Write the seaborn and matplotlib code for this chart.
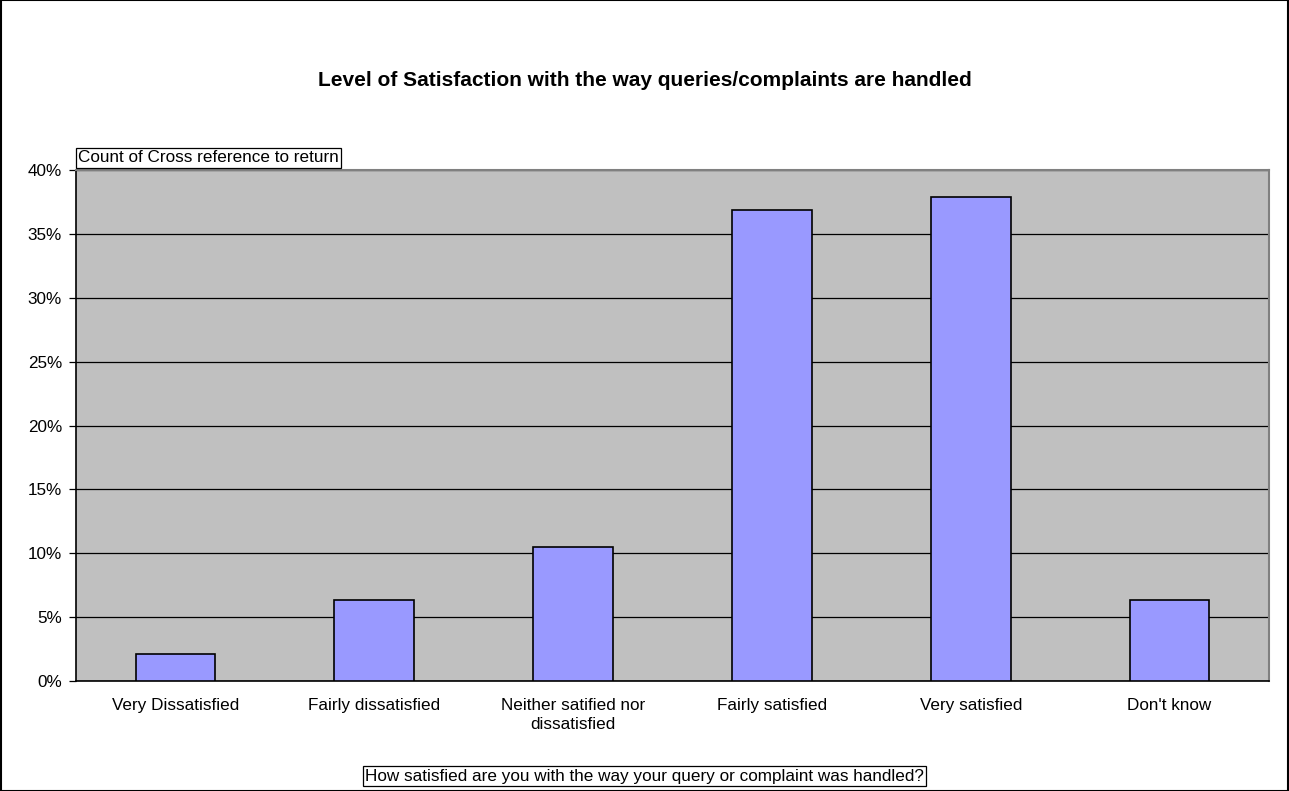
import matplotlib
matplotlib.use("Agg")
import matplotlib.pyplot as plt
import seaborn as sns
import pandas as pd
from matplotlib.ticker import FixedLocator, PercentFormatter
from matplotlib.patches import Rectangle

categories = ["Very Dissatisfied", "Fairly dissatisfied", "Neither satified nor\ndissatisfied",
              "Fairly satisfied", "Very satisfied", "Don't know"]
counts = [2, 6, 10, 35, 36, 6]
total = sum(counts)
shares = [c / total * 100 for c in counts]

df = pd.DataFrame({"category": categories, "share": shares})

sns.set_theme(style="white")
plt.rcParams["font.family"] = ["Liberation Sans", "DejaVu Sans"]
plt.rcParams["text.color"] = "black"
plt.rcParams["xtick.color"] = "black"
plt.rcParams["ytick.color"] = "black"

fig = plt.figure(figsize=(12.89, 7.91), dpi=100)
ax = fig.add_axes([76 / 1289, 1 - 681 / 791, (1269 - 76) / 1289, (681 - 170) / 791])
ax.set_facecolor("#C0C0C0")

sns.barplot(data=df, x="category", y="share", ax=ax, color="#9999FF", saturation=1,
            width=0.4, edgecolor="black", linewidth=1.2, zorder=3)

ax.set_ylim(0, 40)
ax.set_xlim(-0.5, len(categories) - 0.5)
ax.yaxis.set_major_locator(FixedLocator(range(0, 41, 5)))
ax.yaxis.set_major_formatter(PercentFormatter(decimals=0))
ax.grid(axis="y", color="black", linewidth=0.9, zorder=1)
ax.set_axisbelow(True)

ax.set_xticks(range(len(categories)))
ax.set_xticklabels(categories, fontsize=12.3, linespacing=1.4, color="black")
ax.set_xticks([i - 0.5 for i in range(len(categories) + 1)], minor=True)
ax.tick_params(axis="x", which="major", length=0, pad=12)
ax.tick_params(axis="x", which="minor", length=5, width=0.9, color="black", direction="out")
ax.tick_params(axis="y", length=5, width=0.9, color="black", direction="out",
               labelsize=12.3, labelcolor="black", pad=5, left=True)
ax.set_xlabel("")
ax.set_ylabel("")

for side in ["left", "bottom"]:
    ax.spines[side].set_color("black")
    ax.spines[side].set_linewidth(1.2)
for side in ["top", "right"]:
    ax.spines[side].set_color("#808080")
    ax.spines[side].set_linewidth(1.5)

fig.text(0.5, 1 - 81 / 791, "Level of Satisfaction with the way queries/complaints are handled",
         ha="center", va="center", fontsize=15, fontweight="bold", color="black")

box = dict(boxstyle="square,pad=0.12", facecolor="white", edgecolor="black", linewidth=0.9)
fig.text(78 / 1289, 1 - 158 / 791, "Count of Cross reference to return",
         ha="left", va="center", fontsize=12.3, color="black", bbox=box)
fig.text(0.5, 1 - 776 / 791, "How satisfied are you with the way your query or complaint was handled?",
         ha="center", va="center", fontsize=12.3, color="black", bbox=box)

fig.patches.append(Rectangle((0.0005, 0.0005), 0.999, 0.999, transform=fig.transFigure,
                             fill=False, edgecolor="black", linewidth=1.5))

fig.savefig("out.png", dpi=100)
